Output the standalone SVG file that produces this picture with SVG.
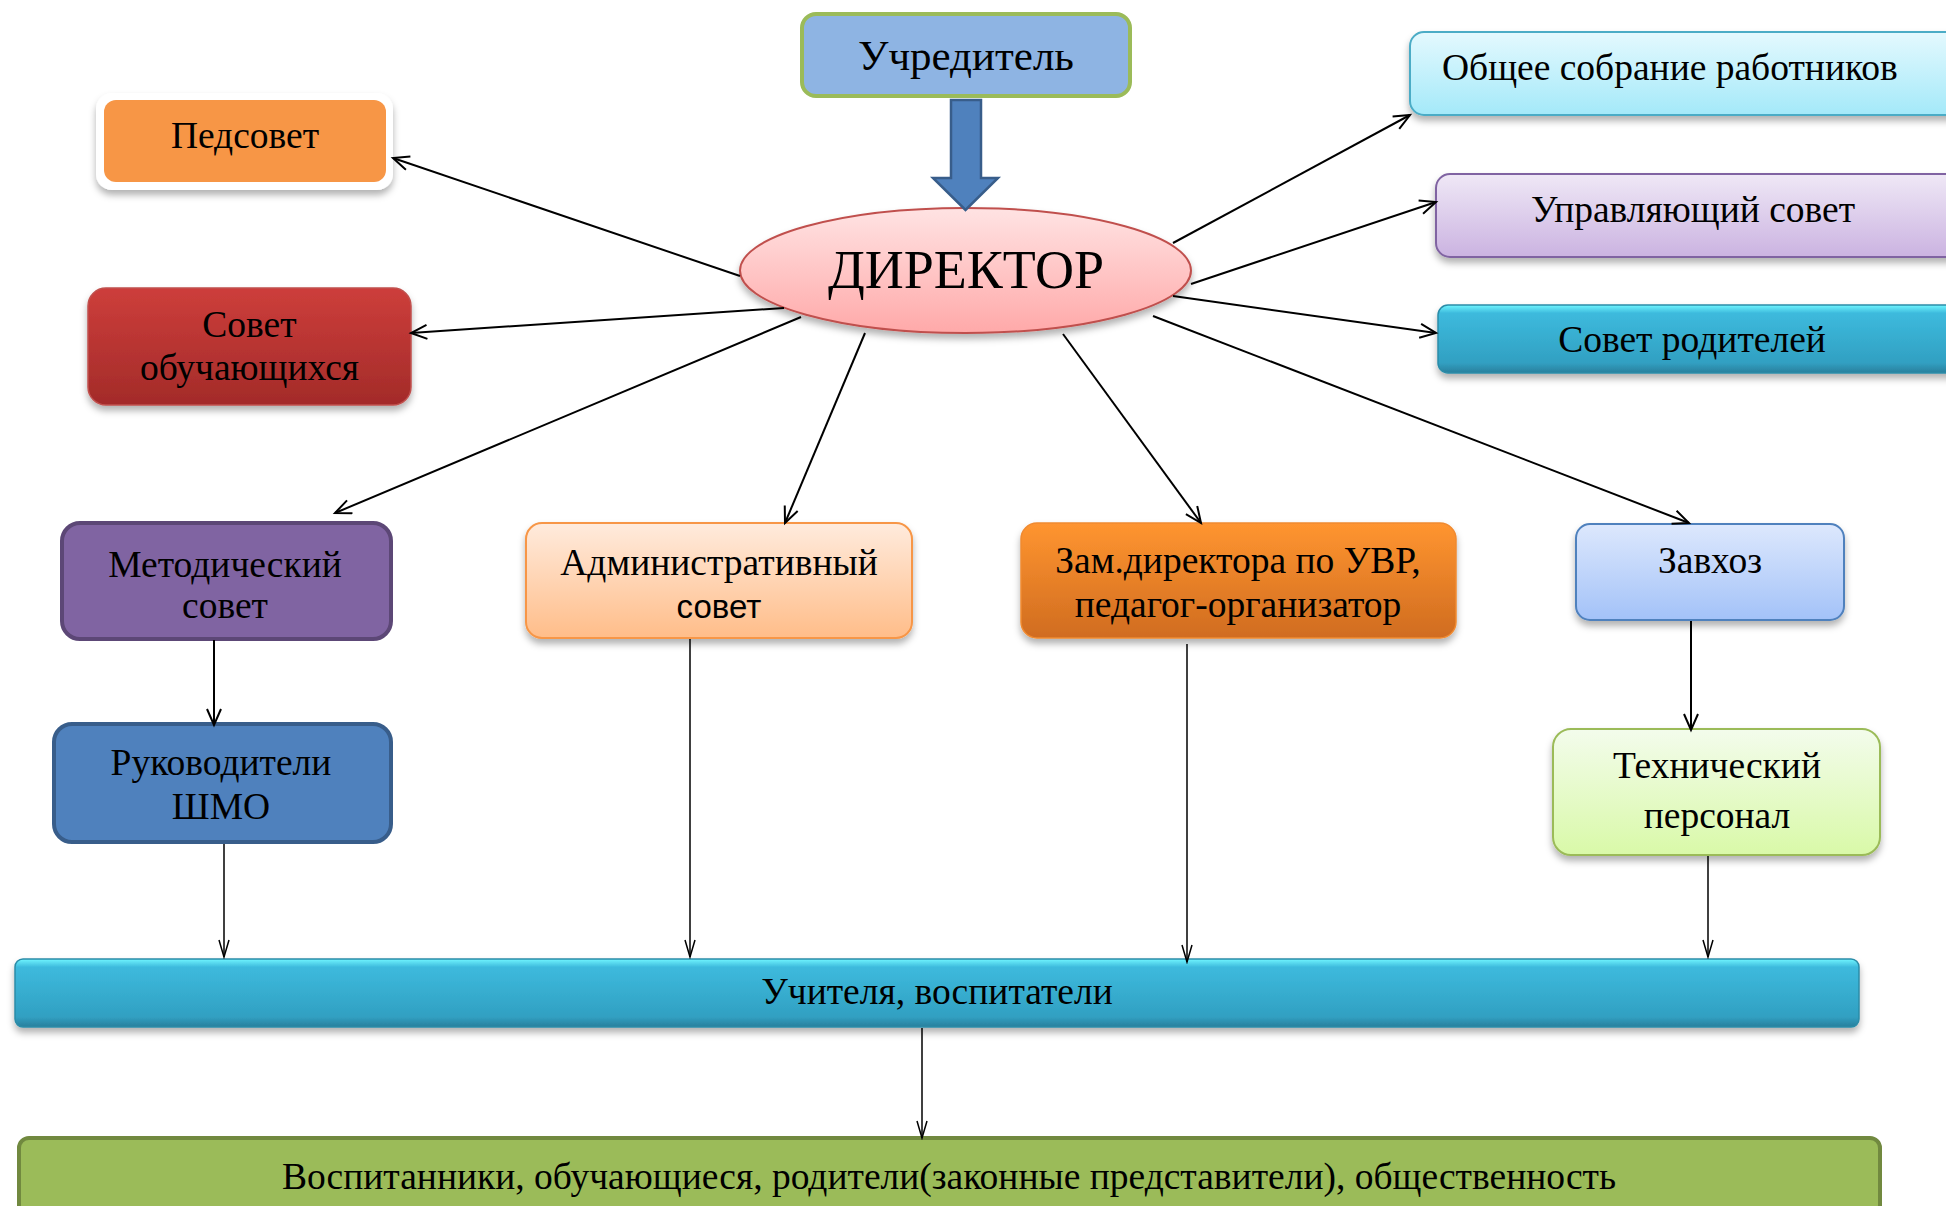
<svg xmlns="http://www.w3.org/2000/svg" width="1946" height="1206" viewBox="0 0 1946 1206">
<defs>
<style>
.t{font-family:"Liberation Serif","Times New Roman",serif;fill:#000;text-anchor:middle;font-size:37.5px}
.s{font-family:"Liberation Sans",Arial,sans-serif;fill:#000;text-anchor:middle}
.c{stroke:#000;stroke-width:2;fill:none}
.v{stroke:#000;stroke-width:1.5;fill:none}
</style>
<filter id="sh" x="-10%" y="-20%" width="120%" height="150%">
<feDropShadow dx="0" dy="5" stdDeviation="3.5" flood-color="#000" flood-opacity="0.3"/>
</filter>
<linearGradient id="gDir" x1="0" y1="0" x2="0" y2="1"><stop offset="0" stop-color="#FFE3E3"/><stop offset="1" stop-color="#FFA9A9"/></linearGradient>
<linearGradient id="gRed" x1="0" y1="0" x2="0" y2="1"><stop offset="0" stop-color="#CD3E3B"/><stop offset="1" stop-color="#A32B29"/></linearGradient>
<linearGradient id="gObs" x1="0" y1="0" x2="0" y2="1"><stop offset="0" stop-color="#E4F9FE"/><stop offset="1" stop-color="#A4E9F9"/></linearGradient>
<linearGradient id="gUpr" x1="0" y1="0" x2="0" y2="1"><stop offset="0" stop-color="#EFE8F6"/><stop offset="1" stop-color="#CBB3E1"/></linearGradient>
<linearGradient id="gCyan" x1="0" y1="0" x2="0" y2="1"><stop offset="0" stop-color="#70F6FF"/><stop offset="0.12" stop-color="#3DBADD"/><stop offset="0.85" stop-color="#31A0C2"/><stop offset="1" stop-color="#2A7F9C"/></linearGradient>
<linearGradient id="gAdm" x1="0" y1="0" x2="0" y2="1"><stop offset="0" stop-color="#FFEBDD"/><stop offset="1" stop-color="#FFBD89"/></linearGradient>
<linearGradient id="gZam" x1="0" y1="0" x2="0" y2="1"><stop offset="0" stop-color="#FF9530"/><stop offset="1" stop-color="#D06C20"/></linearGradient>
<linearGradient id="gZav" x1="0" y1="0" x2="0" y2="1"><stop offset="0" stop-color="#DDE8FD"/><stop offset="1" stop-color="#A3C2F8"/></linearGradient>
<linearGradient id="gTeh" x1="0" y1="0" x2="0" y2="1"><stop offset="0" stop-color="#F3FCEC"/><stop offset="1" stop-color="#D9F9A8"/></linearGradient>
<marker id="a" markerUnits="userSpaceOnUse" markerWidth="20" markerHeight="18" refX="17" refY="8" orient="auto">
<path d="M1,1 L17,8 L1,15" fill="none" stroke="#000" stroke-width="2"/>
</marker>
<marker id="b" markerUnits="userSpaceOnUse" markerWidth="20" markerHeight="14" refX="18" refY="6" orient="auto">
<path d="M1,1 L18,6 L1,11" fill="none" stroke="#000" stroke-width="1.5"/>
</marker>
</defs>
<rect width="1946" height="1206" fill="#fff"/>

<g id="uchreditel">
<rect x="802" y="14" width="328" height="82" rx="14" fill="#8EB4E3" stroke="#9BBB59" stroke-width="4"/>
<text class="t" x="966" y="70" style="font-size:43px">Учредитель</text>
</g>

<g id="direktor">
<ellipse cx="965.5" cy="270.5" rx="225.5" ry="62.5" fill="url(#gDir)" stroke="#C0504D" stroke-width="2" filter="url(#sh)"/>
<text class="t" x="966" y="288" style="font-size:54px">ДИРЕКТОР</text>
</g>

<g id="pedsovet">
<rect x="96" y="93" width="297" height="97" rx="16" fill="#fff" filter="url(#sh)"/>
<rect x="104" y="100" width="282" height="82" rx="12" fill="#F79646"/>
<text class="t" x="245" y="148">Педсовет</text>
</g>

<g id="sovet-obuch">
<rect x="88" y="288" width="323" height="117" rx="18" fill="url(#gRed)" stroke="#C0504D" stroke-width="1.5" filter="url(#sh)"/>
<text class="t" x="249.5" y="337">Совет</text>
<text class="t" x="249.5" y="380">обучающихся</text>
</g>

<g id="obshchee">
<rect x="1410" y="32" width="560" height="83" rx="14" fill="url(#gObs)" stroke="#4BACC6" stroke-width="2" filter="url(#sh)"/>
<text class="t" x="1442" y="80" style="text-anchor:start">Общее собрание работников</text>
</g>

<g id="upravl">
<rect x="1436" y="174" width="534" height="83" rx="14" fill="url(#gUpr)" stroke="#8064A2" stroke-width="2" filter="url(#sh)"/>
<text class="t" x="1693" y="222">Управляющий совет</text>
</g>

<g id="sovet-rod">
<rect x="1438" y="305" width="532" height="68" rx="10" fill="url(#gCyan)" stroke="#2B8CA8" stroke-width="1.5" filter="url(#sh)"/>
<text class="t" x="1692" y="352">Совет родителей</text>
</g>

<g id="metod">
<rect x="62" y="523" width="329" height="116" rx="18" fill="#8064A2" stroke="#5C4776" stroke-width="4"/>
<text class="t" x="225" y="577">Методический</text>
<text class="t" x="225" y="618">совет</text>
</g>

<g id="ruk">
<rect x="54" y="724" width="337" height="118" rx="18" fill="#4F81BD" stroke="#385D8A" stroke-width="4"/>
<text class="t" x="221" y="775">Руководители</text>
<text class="t" x="221" y="819">ШМО</text>
</g>

<g id="admin">
<rect x="526" y="523" width="386" height="115" rx="16" fill="url(#gAdm)" stroke="#F79646" stroke-width="2" filter="url(#sh)"/>
<text class="t" x="719" y="575">Административный</text>
<text class="s" x="719" y="618" font-size="33">совет</text>
</g>

<g id="zam">
<rect x="1021" y="523" width="435" height="115" rx="16" fill="url(#gZam)" stroke="#F08A30" stroke-width="1.5" filter="url(#sh)"/>
<text class="t" x="1238" y="573">Зам.директора по УВР,</text>
<text class="t" x="1238" y="617">педагог-организатор</text>
</g>

<g id="zavhoz">
<rect x="1576" y="524" width="268" height="96" rx="14" fill="url(#gZav)" stroke="#4F81BD" stroke-width="2" filter="url(#sh)"/>
<text class="t" x="1710" y="573">Завхоз</text>
</g>

<g id="tehn">
<rect x="1553" y="729" width="327" height="126" rx="18" fill="url(#gTeh)" stroke="#9BBB59" stroke-width="2" filter="url(#sh)"/>
<text class="t" x="1717" y="778">Технический</text>
<text class="t" x="1717" y="828">персонал</text>
</g>

<g id="uchitelya">
<rect x="15" y="959" width="1844" height="68" rx="8" fill="url(#gCyan)" stroke="#2B8CA8" stroke-width="1.5" filter="url(#sh)"/>
<text class="t" x="937" y="1004">Учителя, воспитатели</text>
</g>

<g id="vospitanniki">
<rect x="19" y="1138" width="1861" height="90" rx="10" fill="#9BBB59" stroke="#71893F" stroke-width="4"/>
<text class="t" x="949" y="1189">Воспитанники, обучающиеся, родители(законные представители), общественность</text>
</g>

<g id="connectors">
<polygon points="951,100 981,100 981,178 998,178 965.5,210 933,178 951,178" fill="#4F81BD" stroke="#385D8A" stroke-width="2.5"/>
<line class="c" x1="740" y1="276" x2="393" y2="158" marker-end="url(#a)"/>
<line class="c" x1="784" y1="308" x2="411" y2="333" marker-end="url(#a)"/>
<line class="c" x1="801" y1="317" x2="335" y2="513" marker-end="url(#a)"/>
<line class="c" x1="865" y1="333" x2="785" y2="523" marker-end="url(#a)"/>
<line class="c" x1="1063" y1="334" x2="1201" y2="523" marker-end="url(#a)"/>
<line class="c" x1="1153" y1="316" x2="1689" y2="523" marker-end="url(#a)"/>
<line class="c" x1="1173" y1="243" x2="1410" y2="115" marker-end="url(#a)"/>
<line class="c" x1="1191" y1="284" x2="1436" y2="202" marker-end="url(#a)"/>
<line class="c" x1="1173" y1="296" x2="1436" y2="333" marker-end="url(#a)"/>
<line class="c" x1="214" y1="640" x2="214" y2="725" marker-end="url(#a)"/>
<line class="c" x1="1691" y1="621" x2="1691" y2="730" marker-end="url(#a)"/>
<line class="v" x1="224" y1="844" x2="224" y2="957" marker-end="url(#b)"/>
<line class="v" x1="690" y1="639" x2="690" y2="957" marker-end="url(#b)"/>
<line class="v" x1="1187" y1="644" x2="1187" y2="962" marker-end="url(#b)"/>
<line class="v" x1="1708" y1="856" x2="1708" y2="957" marker-end="url(#b)"/>
<line class="v" x1="922" y1="1028" x2="922" y2="1138" marker-end="url(#b)"/>
</g>
</svg>
